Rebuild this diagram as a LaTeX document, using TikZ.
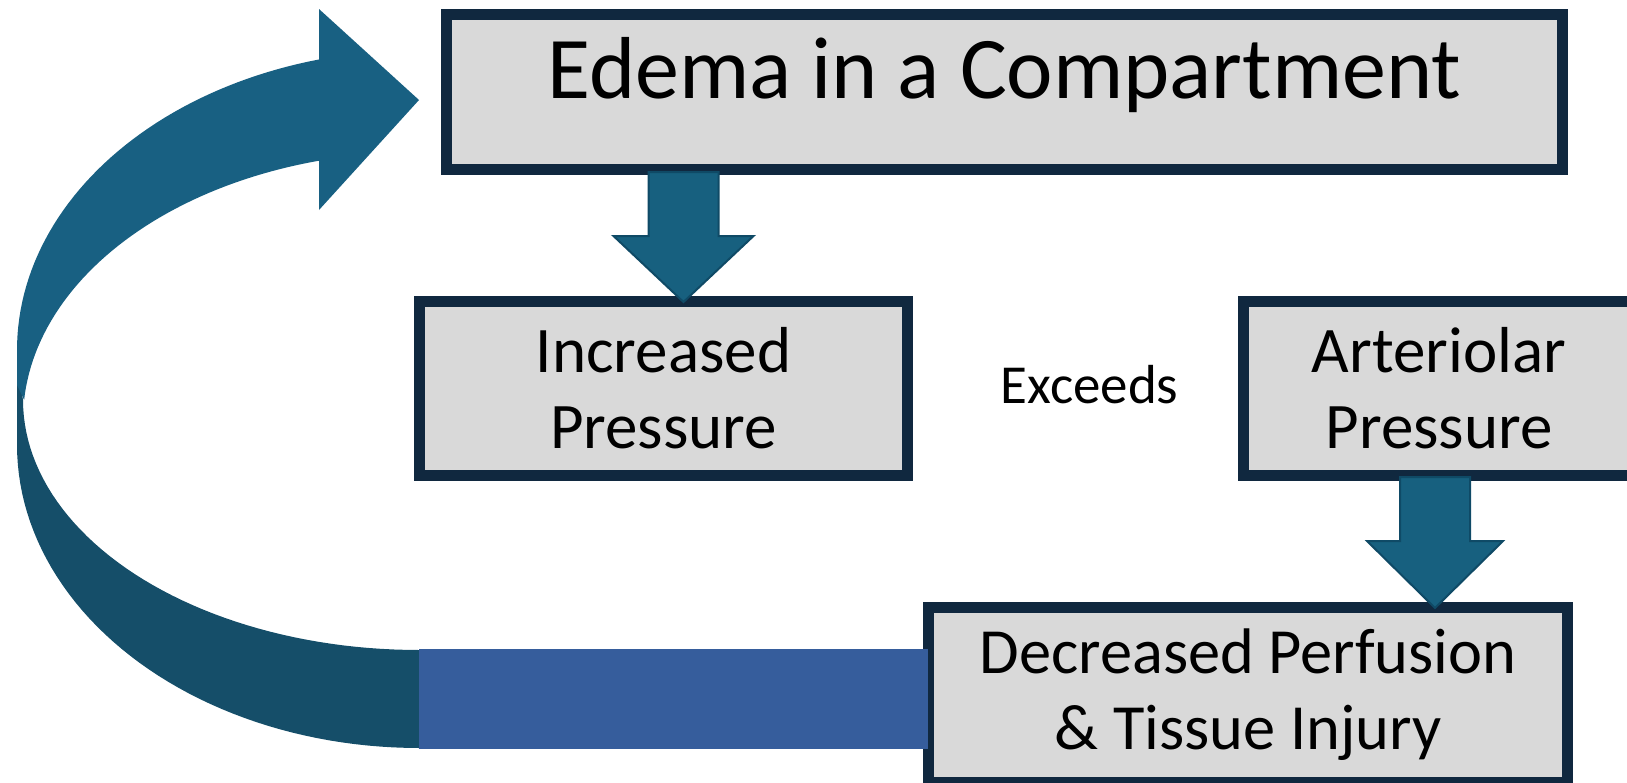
\documentclass[tikz,border=0pt]{standalone}
\usepackage{fontspec}
\setmainfont{Carlito}
\usetikzlibrary{calc}
\definecolor{boxfill}{HTML}{D9D9D9}
\definecolor{boxline}{HTML}{10283F}
\definecolor{arrfill}{HTML}{17607F}
\definecolor{arrline}{HTML}{0F4A66}
\definecolor{curvetop}{HTML}{186082}
\definecolor{curvebot}{HTML}{154E69}
\definecolor{barblue}{HTML}{365D9C}
\begin{document}
\begin{tikzpicture}[x=0.5pt,y=-0.5pt,
  box/.style={draw=boxline, fill=boxfill, line width=5.5pt, inner sep=0pt, align=center, text=black},
  blockarrow/.style={fill=arrfill, draw=arrline, line width=1pt, line join=miter},
  midfont/.style={font=\fontsize{32.5pt}{38pt}\selectfont}]
\clip (0,0) rectangle (1627,782);

% big curved arrow: lower band, then upper band with head
\fill[curvebot] (17,360) -- (17,445)
  -- plot[domain=180:270, samples=50, variable=\t] ({419+402*cos(\t)},{445-303*sin(\t)})
  -- (419,650)
  -- plot[domain=270:180, samples=50, variable=\t] ({419+396*cos(\t)},{400-250*sin(\t)}) -- cycle;
\fill[curvetop] (17,385) -- (17,350)
  -- plot[domain=180:104.4, samples=50, variable=\t] ({419+402*cos(\t)},{350-300*sin(\t)})
  -- (319,9) -- (419,100) -- (319,210) -- (319,160)
  -- plot[domain=104.6:175.7, samples=50, variable=\t] ({419+396*cos(\t)},{420-268*sin(\t)}) -- cycle;

% boxes
\node[box, minimum width=558pt, minimum height=77.5pt, text height=6.6pt, text depth=0pt, font=\fontsize{44pt}{52pt}\selectfont] (edema) at (1004.5,92) {Edema in a Compartment};
\node[box, midfont, minimum width=244pt, minimum height=87pt] (inc) at (663.5,388.5) {Increased\\Pressure};
\node[box, midfont, minimum width=195.5pt, minimum height=87pt] (art) at (1439,388.5) {Arteriolar\\Pressure};
\node[box, minimum width=319.5pt, minimum height=87.5pt, font=\fontsize{32.2pt}{38pt}\selectfont] (dec) at (1248,695) {Decreased Perfusion\\\& Tissue Injury};
\node[anchor=base, font=\fontsize{27.5pt}{33pt}\selectfont] (exc) at (1089.5,403) {Exceeds};

% block arrows
\coordinate (a1) at (683.5,0);
\coordinate (a2) at (1435,0);
\draw[blockarrow] ($(a1 |- edema.south)+(-35,-3)$) -- ($(a1 |- inc.north)+(-35,-60)$) -- ($(a1 |- inc.north)+(-70,-60)$)
  -- ($(a1 |- inc.north)+(0,6)$) -- ($(a1 |- inc.north)+(70,-60)$) -- ($(a1 |- inc.north)+(35,-60)$)
  -- ($(a1 |- edema.south)+(35,-3)$) -- cycle;
\draw[blockarrow] ($(a2 |- art.south)+(-35,-4)$) -- ($(a2 |- dec.north)+(-35,-61)$) -- ($(a2 |- dec.north)+(-68,-61)$)
  -- ($(a2 |- dec.north)+(0,6)$) -- ($(a2 |- dec.north)+(68,-61)$) -- ($(a2 |- dec.north)+(35,-61)$)
  -- ($(a2 |- art.south)+(35,-4)$) -- cycle;

% tail bar from the decreased-perfusion box to the curved arrow
\coordinate (tail) at (419,699);
\draw[barblue, line width=50pt] (tail) -- ($(tail -| dec.west)+(5,0)$);
\end{tikzpicture}
\end{document}
